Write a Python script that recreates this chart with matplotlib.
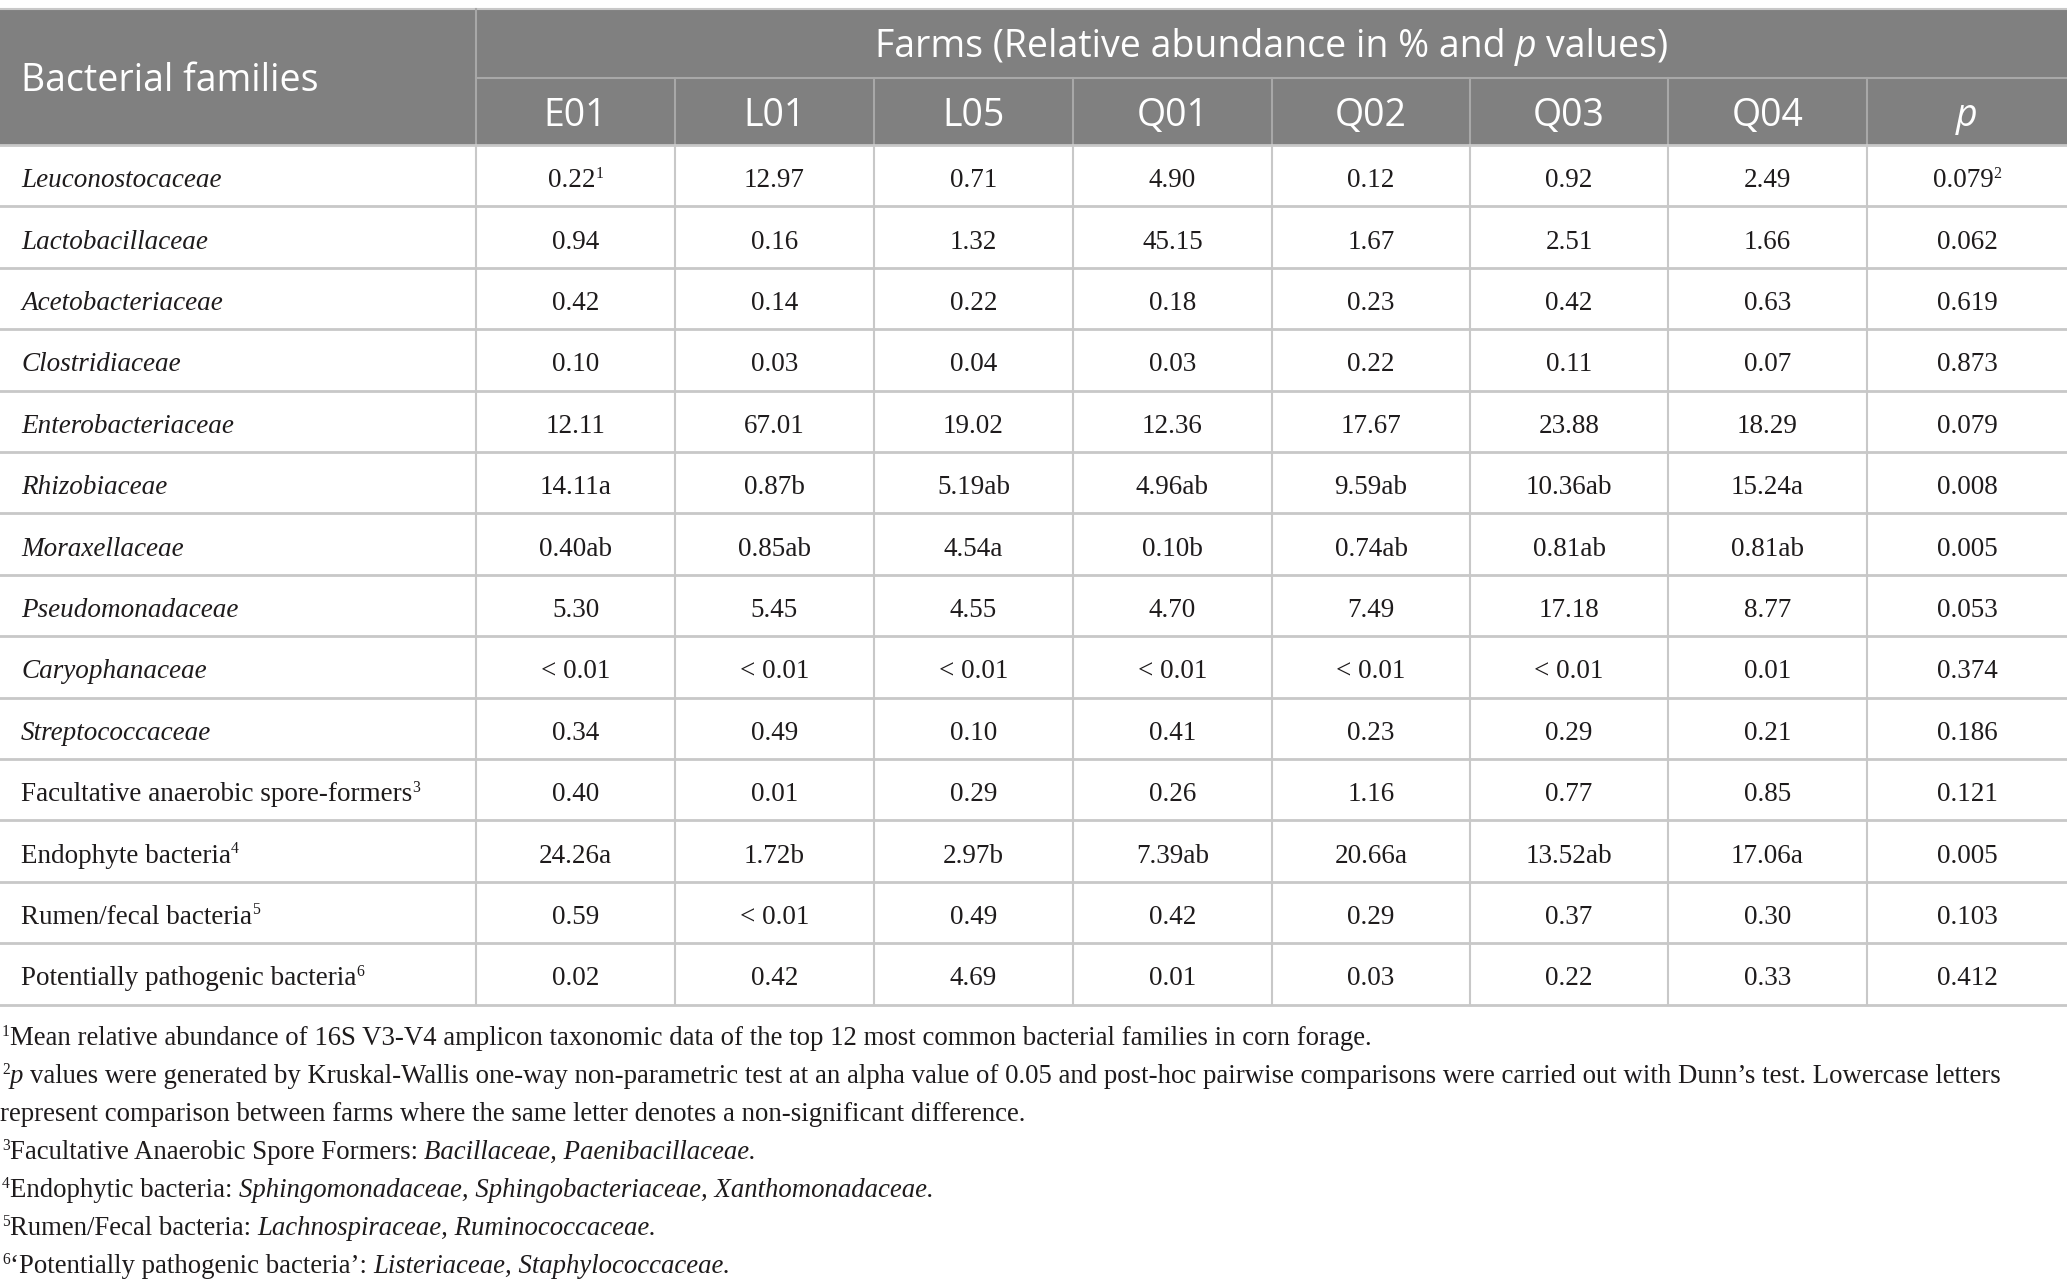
import matplotlib
matplotlib.use("Agg")
import matplotlib.pyplot as plt
from matplotlib.patches import Rectangle

# ---------------- data ----------------
families = ["Leuconostocaceae", "Lactobacillaceae", "Acetobacteriaceae", "Clostridiaceae",
            "Enterobacteriaceae", "Rhizobiaceae", "Moraxellaceae", "Pseudomonadaceae",
            "Caryophanaceae", "Streptococcaceae", "Facultative anaerobic spore-formers",
            "Endophyte bacteria", "Rumen/fecal bacteria", "Potentially pathogenic bacteria"]
family_italic = [True] * 10 + [False] * 4
family_marks = [""] * 10 + ["3", "4", "5", "6"]

farms = ["E01", "L01", "L05", "Q01", "Q02", "Q03", "Q04"]
E01 = ["0.22", "0.94", "0.42", "0.10", "12.11", "14.11a", "0.40ab", "5.30", "< 0.01", "0.34", "0.40", "24.26a", "0.59", "0.02"]
L01 = ["12.97", "0.16", "0.14", "0.03", "67.01", "0.87b", "0.85ab", "5.45", "< 0.01", "0.49", "0.01", "1.72b", "< 0.01", "0.42"]
L05 = ["0.71", "1.32", "0.22", "0.04", "19.02", "5.19ab", "4.54a", "4.55", "< 0.01", "0.10", "0.29", "2.97b", "0.49", "4.69"]
Q01 = ["4.90", "45.15", "0.18", "0.03", "12.36", "4.96ab", "0.10b", "4.70", "< 0.01", "0.41", "0.26", "7.39ab", "0.42", "0.01"]
Q02 = ["0.12", "1.67", "0.23", "0.22", "17.67", "9.59ab", "0.74ab", "7.49", "< 0.01", "0.23", "1.16", "20.66a", "0.29", "0.03"]
Q03 = ["0.92", "2.51", "0.42", "0.11", "23.88", "10.36ab", "0.81ab", "17.18", "< 0.01", "0.29", "0.77", "13.52ab", "0.37", "0.22"]
Q04 = ["2.49", "1.66", "0.63", "0.07", "18.29", "15.24a", "0.81ab", "8.77", "0.01", "0.21", "0.85", "17.06a", "0.30", "0.33"]
p_values = ["0.079", "0.062", "0.619", "0.873", "0.079", "0.008", "0.005", "0.053", "0.374", "0.186", "0.121", "0.005", "0.103", "0.412"]
cell_marks = {(0, 0): "1", (0, 7): "2"}   # (row, column) -> footnote superscript

header_title = ("Farms (Relative abundance in % and", "p", "values)")
first_header = "Bacterial families"
p_header = "p"

footnotes = [
    [("1", "sup"), ("Mean relative abundance of 16S V3-V4 amplicon taxonomic data of the top 12 most common bacterial families in corn forage.", "n")],
    [("2", "sup"), ("p", "i"), (" values were generated by Kruskal-Wallis one-way non-parametric test at an alpha value of 0.05 and post-hoc pairwise comparisons were carried out with Dunn\u2019s test. Lowercase letters", "n")],
    [("represent comparison between farms where the same letter denotes a non-significant difference.", "n")],
    [("3", "sup"), ("Facultative Anaerobic Spore Formers: ", "n"), ("Bacillaceae, Paenibacillaceae.", "i")],
    [("4", "sup"), ("Endophytic bacteria: ", "n"), ("Sphingomonadaceae, Sphingobacteriaceae, Xanthomonadaceae.", "i")],
    [("5", "sup"), ("Rumen/Fecal bacteria: ", "n"), ("Lachnospiraceae, Ruminococcaceae.", "i")],
    [("6", "sup"), ("\u2018Potentially pathogenic bacteria\u2019: ", "n"), ("Listeriaceae, Staphylococcaceae.", "i")],
]

# ---------------- layout / style ----------------
W, H = 2067, 1286
HEAD_BG = "#808080"
LINE = "#c8c8c8"
HEAD_LINE = "#a8a8a8"
TXT = "#1e1b1c"
SANS = "Open Sans"
SERIF = "Liberation Serif"
HEAD_SIZE = 27.0
BODY_SIZE = 19.5
FOOT_SIZE = 19.3

top, mid, head_bot = 8.5, 77.5, 145.0
row_h = 61.4
col_edges = [0, 476, 675, 874, 1073, 1272, 1470, 1668, 1867, 2067]

fig = plt.figure(figsize=(W / 100, H / 100), dpi=100)
ax = fig.add_axes([0, 0, 1, 1])
ax.set_xlim(0, W)
ax.set_ylim(H, 0)
ax.axis("off")
fig.canvas.draw()
renderer = fig.canvas.get_renderer()


def text_w(s, **kw):
    t = ax.text(0, 0, s, **kw)
    w = t.get_window_extent(renderer).width
    t.remove()
    return w


def space_w(**kw):
    return text_w("n n", **kw) - text_w("nn", **kw)


def rich(x, y, runs, ha="left"):
    """runs: list of (text, kwargs, rise_px). y is the baseline."""
    widths = []
    for s, kw, rise in runs:
        core = s.strip(" ")
        lead = len(s) - len(s.lstrip(" "))
        trail = len(s) - len(s.rstrip(" "))
        sw = space_w(**kw)
        cw = text_w(core, **kw) if core else 0
        widths.append((lead * sw, cw, trail * sw, core))
    total = sum(a + b + c for a, b, c, _ in widths)
    x0 = x - total / 2 if ha == "center" else x
    for (s, kw, rise), (a, b, c, core) in zip(runs, widths):
        x0 += a
        if core:
            ax.text(x0, y - rise, core, ha="left", va="baseline", **kw)
        x0 += b + c


# header background
ax.add_patch(Rectangle((0, top), W, head_bot - top, facecolor=HEAD_BG, edgecolor="none", zorder=0))
# header lines
ax.plot([col_edges[1], W], [mid, mid], color=HEAD_LINE, lw=1.5, zorder=1)
ax.plot([0, W], [top, top], color=LINE, lw=1.5, zorder=1)
ax.plot([col_edges[1], col_edges[1]], [top, head_bot], color=HEAD_LINE, lw=1.5, zorder=1)
for xe in col_edges[2:-1]:
    ax.plot([xe, xe], [mid, head_bot], color=HEAD_LINE, lw=1.5, zorder=1)

n_rows = len(families)
body_bot = head_bot + n_rows * row_h
for i in range(n_rows + 1):
    yy = head_bot + i * row_h
    ax.plot([0, W], [yy, yy], color=LINE, lw=2.0, zorder=1)
for xe in col_edges[1:-1]:
    ax.plot([xe, xe], [head_bot, body_bot], color=LINE, lw=1.5, zorder=1)

hkw = dict(family=SANS, fontsize=HEAD_SIZE, color="white")
hkw_i = dict(family=SANS, fontsize=HEAD_SIZE, color="white", style="italic")
ax.text(21, 91, first_header, ha="left", va="baseline", **hkw)
farms_cx = (col_edges[1] + col_edges[-1]) / 2
rich(farms_cx, 57, [(header_title[0] + " ", hkw, 0), (header_title[1], hkw_i, 0), (" " + header_title[2], hkw, 0)], ha="center")
for j, f in enumerate(farms):
    cx = (col_edges[j + 1] + col_edges[j + 2]) / 2
    ax.text(cx, 126, f, ha="center", va="baseline", **hkw)
ax.text((col_edges[-2] + col_edges[-1]) / 2, 126, p_header, ha="center", va="baseline", **hkw_i)

bkw = dict(family=SERIF, fontsize=BODY_SIZE, color=TXT)
bkw_i = dict(family=SERIF, fontsize=BODY_SIZE, color=TXT, style="italic")
skw = dict(family=SERIF, fontsize=BODY_SIZE * 0.58, color=TXT)
rise = 9.5

columns = [E01, L01, L05, Q01, Q02, Q03, Q04, p_values]
for i, fam in enumerate(families):
    base = head_bot + i * row_h + row_h / 2 + 11.5
    runs = [(fam, bkw_i if family_italic[i] else bkw, 0)]
    if family_marks[i]:
        runs.append((family_marks[i], skw, rise))
    rich(21, base, runs)
    for j, col in enumerate(columns):
        cx = (col_edges[j + 1] + col_edges[j + 2]) / 2
        runs = [(col[i], bkw, 0)]
        if (i, j) in cell_marks:
            runs.append((cell_marks[(i, j)], skw, rise))
        rich(cx, base, runs, ha="center")

fkw = dict(family=SERIF, fontsize=FOOT_SIZE, color=TXT)
fkw_i = dict(family=SERIF, fontsize=FOOT_SIZE, color=TXT, style="italic")
fkw_s = dict(family=SERIF, fontsize=FOOT_SIZE * 0.58, color=TXT)
for k, line in enumerate(footnotes):
    base = 1044.6 + k * 38.07
    runs = []
    for s, kind in line:
        if kind == "sup":
            runs.append((s, fkw_s, 9.0))
        elif kind == "i":
            runs.append((s, fkw_i, 0))
        else:
            runs.append((s, fkw, 0))
    x0 = 2 if line[0][1] == "sup" else 0
    rich(x0, base, runs)

fig.savefig("out.png", dpi=100)
